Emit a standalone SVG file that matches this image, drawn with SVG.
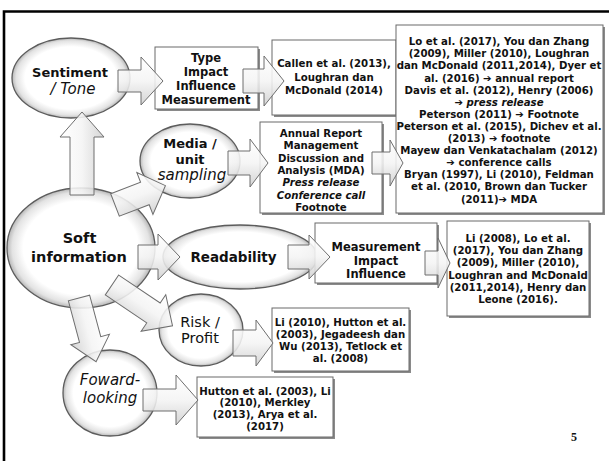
<svg xmlns="http://www.w3.org/2000/svg" width="609" height="461" viewBox="0 0 609 461">
  <defs>
    <radialGradient id="ovalFill" cx="50%" cy="50%" r="50%">
      <stop offset="0.78" stop-color="#ffffff"/>
      <stop offset="0.93" stop-color="#e3e3e3"/>
      <stop offset="1" stop-color="#b8b8b8"/>
    </radialGradient>
    <linearGradient id="arrowFill" x1="0" y1="0" x2="0" y2="1">
      <stop offset="0" stop-color="#ffffff"/>
      <stop offset="0.5" stop-color="#f4f4f4"/>
      <stop offset="1" stop-color="#cfcfcf"/>
    </linearGradient>
  </defs>
  <style>
    .oval { fill: url(#ovalFill); stroke: #5c5c5c; stroke-width: 1.3; }
    .box { fill: #ffffff; stroke: #6a6a6a; stroke-width: 1; }
    .shadow { fill: #8a8a8a; }
    .arrow { fill: url(#arrowFill); fill-opacity: 0.88; stroke: #6e6e6e; stroke-width: 1; }
    .frame { stroke: #000; stroke-width: 2.6; fill: none; }
    text { font-family: "DejaVu Sans", Verdana, sans-serif; fill: #111; text-anchor: middle; }
    .lb { font-weight: bold; font-size: 13px; }
    .li { font-style: italic; font-size: 15px; }
    .lr { font-size: 14.5px; }
    .t10 { font-weight: bold; font-size: 10.2px; }
    .t11 { font-weight: bold; font-size: 11.5px; }
    .pg { font-family: "Liberation Serif", "Times New Roman", serif; font-weight: bold; font-size: 12px; }
  </style>

  <!-- slide frame -->
  <path class="frame" d="M4,461 V11.5 H609"/>

  <!-- ellipse nodes -->
  <g id="sentiment">
    <ellipse class="oval" cx="71" cy="78" rx="59" ry="40"/>
    <text class="lb" x="70" y="77">Sentiment</text>
    <text class="li" x="73" y="94">/ Tone</text>
  </g>
  <g id="media">
    <ellipse class="oval" cx="190" cy="161" rx="50" ry="37"/>
    <text class="lb" x="190" y="147.5">Media /</text>
    <text class="lb" x="190" y="164">unit</text>
    <text class="li" x="192" y="180">sampling</text>
  </g>
  <g id="soft">
    <ellipse class="oval" cx="81" cy="248" rx="74" ry="60"/>
    <text class="lb" x="79.5" y="243" style="font-size:14.5px">Soft</text>
    <text class="lb" x="79" y="262" style="font-size:14.5px">information</text>
  </g>
  <g id="readability">
    <ellipse class="oval" cx="240" cy="257" rx="77" ry="32"/>
    <text class="lb" x="233.5" y="262" style="font-size:13.5px">Readability</text>
  </g>
  <g id="risk">
    <ellipse class="oval" cx="201" cy="330" rx="42" ry="36"/>
    <text class="lr" x="200" y="326.5">Risk /</text>
    <text class="lr" x="200" y="343">Profit</text>
  </g>
  <g id="forward">
    <ellipse class="oval" cx="110" cy="393" rx="47" ry="43"/>
    <text class="li" x="110" y="385">Foward-</text>
    <text class="li" x="110" y="403">looking</text>
  </g>

  <!-- rectangular nodes -->
  <g id="type-box">
    <rect class="shadow" x="157" y="49" width="103" height="62"/>
    <rect class="box" x="155" y="47" width="103" height="62"/>
    <text class="t11" x="206" y="62">Type</text>
    <text class="t11" x="206" y="76">Impact</text>
    <text class="t11" x="206" y="90">Influence</text>
    <text class="t11" x="206" y="104">Measurement</text>
  </g>
  <g id="callen-box">
    <rect class="shadow" x="274" y="42" width="124" height="75"/>
    <rect class="box" x="272" y="40" width="124" height="75"/>
    <text class="t10" x="334" y="67">Callen et al. (2013),</text>
    <text class="t10" x="334" y="81">Loughran dan</text>
    <text class="t10" x="334" y="94">McDonald (2014)</text>
  </g>
  <g id="sources-box">
    <rect class="shadow" x="398" y="27" width="207" height="188"/>
    <rect class="box" x="396" y="25" width="207" height="188"/>
    <text class="t10" x="499" y="45.2">Lo et al. (2017), You dan Zhang</text>
    <text class="t10" x="499" y="57.3">(2009), Miller (2010), Loughran</text>
    <text class="t10" x="499" y="69.4">dan McDonald (2011,2014), Dyer et</text>
    <text class="t10" x="499" y="81.5">al. (2016) ➔ annual report</text>
    <text class="t10" x="499" y="93.6">Davis et al. (2012), Henry (2006)</text>
    <text class="t10" x="499" y="105.7">➔ <tspan font-style="italic">press release</tspan></text>
    <text class="t10" x="499" y="117.8">Peterson (2011) ➔ Footnote</text>
    <text class="t10" x="499" y="129.9">Peterson et al. (2015), Dichev et al.</text>
    <text class="t10" x="499" y="142">(2013) ➔ footnote</text>
    <text class="t10" x="499" y="154.1">Mayew dan Venkatachalam (2012)</text>
    <text class="t10" x="499" y="166.2">➔ conference calls</text>
    <text class="t10" x="499" y="178.3">Bryan (1997), Li (2010), Feldman</text>
    <text class="t10" x="499" y="190.4">et al. (2010, Brown dan Tucker</text>
    <text class="t10" x="499" y="202.5">(2011)➔ MDA</text>
  </g>
  <g id="annual-box">
    <rect class="shadow" x="262" y="124" width="122" height="91"/>
    <rect class="box" x="260" y="122" width="122" height="91"/>
    <text class="t10" x="321" y="137">Annual Report</text>
    <text class="t10" x="321" y="149.3">Management</text>
    <text class="t10" x="321" y="161.6">Discussion and</text>
    <text class="t10" x="321" y="173.9">Analysis (MDA)</text>
    <text class="t10" x="321" y="186.2" font-style="italic">Press release</text>
    <text class="t10" x="321" y="198.5" font-style="italic">Conference call</text>
    <text class="t10" x="321" y="210.8">Footnote</text>
  </g>
  <g id="measurement-box">
    <rect class="shadow" x="317" y="225" width="122" height="60"/>
    <rect class="box" x="315" y="223" width="122" height="60"/>
    <text class="t11" x="376" y="251">Measurement</text>
    <text class="t11" x="376" y="264.5">Impact</text>
    <text class="t11" x="376" y="278">Influence</text>
  </g>
  <g id="readability-refs">
    <rect class="shadow" x="449" y="223" width="142" height="95"/>
    <rect class="box" x="447" y="221" width="142" height="95"/>
    <text class="t10" x="518" y="241.7">Li (2008), Lo et al.</text>
    <text class="t10" x="518" y="254">(2017), You dan Zhang</text>
    <text class="t10" x="518" y="266.3">(2009), Miller (2010),</text>
    <text class="t10" x="518" y="278.6">Loughran and McDonald</text>
    <text class="t10" x="518" y="290.9">(2011,2014), Henry dan</text>
    <text class="t10" x="518" y="303.2">Leone (2016).</text>
  </g>
  <g id="risk-refs">
    <rect class="shadow" x="274" y="310" width="137" height="63"/>
    <rect class="box" x="272" y="308" width="137" height="63"/>
    <text class="t10" x="340.5" y="325.7">Li (2010), Hutton et al.</text>
    <text class="t10" x="340.5" y="337.7">(2003), Jegadeesh dan</text>
    <text class="t10" x="340.5" y="349.7">Wu (2013), Tetlock et</text>
    <text class="t10" x="340.5" y="361.7">al. (2008)</text>
  </g>
  <g id="forward-refs">
    <rect class="shadow" x="199" y="379" width="136" height="60"/>
    <rect class="box" x="197" y="377" width="136" height="60"/>
    <text class="t10" x="265" y="394.7">Hutton et al. (2003), Li</text>
    <text class="t10" x="265" y="406.3">(2010), Merkley</text>
    <text class="t10" x="265" y="417.9">(2013), Arya et al.</text>
    <text class="t10" x="265" y="429.5">(2017)</text>
  </g>

  <!-- block-arrow connectors -->
  <g id="connectors">
    <path class="arrow" transform="translate(118,81)" d="M0,-11 H23 V-24 L45,0 L23,24 V11 H0 Z"/>
    <path class="arrow" transform="translate(243,81)" d="M0,-12 H21 V-25 L41,0 L21,25 V12 H0 Z"/>
    <path class="arrow" transform="translate(228,163)" d="M0,-12 H22 V-24 L40,0 L22,24 V12 H0 Z"/>
    <path class="arrow" transform="translate(372,163)" d="M0,-11 H18 V-23 L31,0 L18,23 V11 H0 Z"/>
    <path class="arrow" transform="translate(82,195) rotate(-90)" d="M0,-12 H58 V-22 L83,0 L58,22 V12 H0 Z"/>
    <path class="arrow" transform="translate(115,205) rotate(-21)" d="M0,-12 H32 V-22.5 L54,0 L32,22.5 V12 H0 Z"/>
    <path class="arrow" transform="translate(138,257)" d="M0,-12 H20 V-23 L42,0 L20,23 V12 H0 Z"/>
    <path class="arrow" transform="translate(288,257)" d="M0,-12 H21 V-22 L42,0 L21,22 V12 H0 Z"/>
    <path class="arrow" transform="translate(425,263)" d="M0,-12 H13 V-25 L25,0 L13,25 V12 H0 Z"/>
    <path class="arrow" transform="translate(112,285) rotate(34)" d="M0,-12 H50 V-22 L73,0 L50,22 V12 H0 Z"/>
    <path class="arrow" transform="translate(233,343)" d="M0,-13 H23 V-23 L40,0 L23,23 V13 H0 Z"/>
    <path class="arrow" transform="translate(79,298) rotate(75)" d="M0,-11 H43 V-20 L66,0 L43,20 V11 H0 Z"/>
    <path class="arrow" transform="translate(143,400)" d="M0,-11 H33 V-25 L55,0 L33,25 V11 H0 Z"/>
  </g>

  <text class="pg" x="574" y="441">5</text>
</svg>
